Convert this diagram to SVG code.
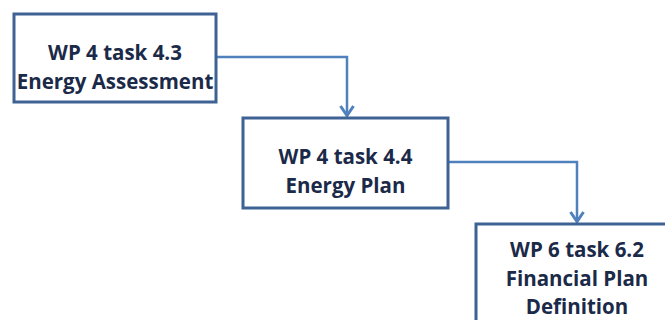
<svg xmlns="http://www.w3.org/2000/svg" width="665" height="320" viewBox="0 0 665 320">
<style>
.box{fill:#fff;stroke:#3e6293;stroke-width:3}
.t{font-family:"Open Sans","Liberation Sans",sans-serif;font-weight:bold;font-size:20.5px;fill:#1b2a48;text-anchor:middle}
.c{fill:none;stroke:#4f81bd;stroke-width:2.5}
.ah{fill:none;stroke:#4f81bd;stroke-width:3;stroke-linejoin:miter}
</style>
<rect width="665" height="320" fill="#fff"/>
<g id="connectors">
<path class="c" d="M216,57 H347 V116"/>
<path class="ah" d="M340.5,106 L347,115.5 L353.5,106"/>
<path class="c" d="M448,162 H577 V222"/>
<path class="ah" d="M570.5,212 L577,221.5 L583.5,212"/>
</g>
<g id="n1">
<rect class="box" x="14" y="14" width="202" height="88"/>
<text class="t" x="115" y="60">WP 4 task 4.3</text>
<text class="t" x="115" y="89">Energy Assessment</text>
</g>
<g id="n2">
<rect class="box" x="243" y="118" width="205" height="90"/>
<text class="t" x="345.5" y="164">WP 4 task 4.4</text>
<text class="t" x="345.5" y="193">Energy Plan</text>
</g>
<g id="n3">
<rect class="box" x="476" y="224" width="205" height="110"/>
<text class="t" x="577" y="257">WP 6 task 6.2</text>
<text class="t" x="577" y="286">Financial Plan</text>
<text class="t" x="577" y="314">Definition</text>
</g>
</svg>
